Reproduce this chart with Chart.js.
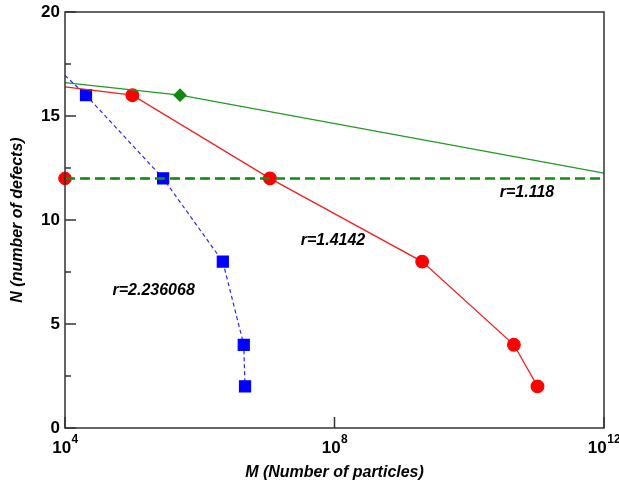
<!DOCTYPE html>
<html>
<head>
<meta charset="utf-8">
<script src="https://cdn.jsdelivr.net/npm/chart.js@4"></script>
<style>
  html, body { margin: 0; padding: 0; background: #fff; }
</style>
</head>
<body>
<canvas id="grafico" width="619" height="489"></canvas>
<script>
// dados
const redSolidM = [1e4, 1e5, 1.1e7, 2e9, 4.6e10, 1.03e11];
const redSolidN = [16.4, 16, 12, 8, 4, 2];
const redDashM = [1e4, 1.1e7];
const redDashN = [12, 12];
const greenSolidM = [1e4, 5.1e5, 1e12];
const greenSolidN = [16.6, 16, 12.25];
const greenDashM = [1e4, 1e12];
const greenDashN = [12, 12];
const blueM = [1e4, 2.05e4, 2.86e5, 2.2e6, 4.5e6, 4.7e6];
const blueN = [16.95, 16, 12, 8, 4, 2];

const xTicks = [1e4, 1e8, 1e12];
const xTickExp = ['4', '8', '12'];
const yTicks = [0, 2.5, 5, 7.5, 10, 12.5, 15, 17.5, 20];

const notes = ['r=1.118', 'r=1.4142', 'r=2.236068'];
const notesM = [7.2e10, 9.5e7, 2.07e5];
const notesN = [11.3, 9.0, 6.6];

const pts = (xs, ys) => xs.map((x, i) => ({ x: x, y: ys[i] }));
// primeiro ponto da linha sem marcador
const radii = (n, r) => Array.from({ length: n }, (_, i) => i === 0 ? 0 : r);

const FONT = '"Liberation Sans", Arial, sans-serif';
const ctx = document.getElementById('grafico').getContext('2d');

const extras = {
    id: 'extras',
    afterDatasetsDraw(chart) {
        const { ctx, chartArea: a, scales } = chart;
        ctx.save();
        // moldura
        ctx.strokeStyle = '#333';
        ctx.lineWidth = 1.5;
        ctx.strokeRect(a.left, a.top, a.right - a.left, a.bottom - a.top);
        // ticks para dentro
        ctx.beginPath();
        xTicks.forEach(v => {
            const px = scales.x.getPixelForValue(v);
            ctx.moveTo(px, a.bottom);
            ctx.lineTo(px, a.bottom - 11);
        });
        yTicks.forEach(v => {
            const py = scales.y.getPixelForValue(v);
            const len = v % 5 === 0 ? 11 : 6;
            ctx.moveTo(a.left, py);
            ctx.lineTo(a.left + len, py);
        });
        ctx.stroke();

        ctx.fillStyle = '#000';
        // rótulos do eixo x com expoente
        ctx.textBaseline = 'alphabetic';
        ctx.textAlign = 'left';
        xTicks.forEach((v, i) => {
            const px = scales.x.getPixelForValue(v);
            ctx.font = 'bold 17px ' + FONT;
            const w1 = ctx.measureText('10').width;
            ctx.font = 'bold 12px ' + FONT;
            const w2 = ctx.measureText(xTickExp[i]).width;
            const x0 = px - (w1 + w2) / 2;
            ctx.font = 'bold 17px ' + FONT;
            ctx.fillText('10', x0, a.bottom + 25);
            ctx.font = 'bold 12px ' + FONT;
            ctx.fillText(xTickExp[i], x0 + w1 + 0.5, a.bottom + 15);
        });

        // rótulos das curvas
        ctx.font = 'italic bold 16px ' + FONT;
        ctx.textAlign = 'center';
        ctx.textBaseline = 'middle';
        notes.forEach((t, i) => {
            ctx.fillText(t, scales.x.getPixelForValue(notesM[i]), scales.y.getPixelForValue(notesN[i]));
        });
        ctx.restore();
    }
};

const tickFont = { family: FONT, size: 17, weight: 'bold' };
const titleFont = { family: FONT, size: 16, weight: 'bold', style: 'italic' };

new Chart(ctx, {
    type: 'scatter',
    data: {
        datasets: [
            {
                data: pts(greenDashM, greenDashN),
                showLine: true,
                borderColor: '#138a13',
                borderWidth: 2.5,
                borderDash: [10, 5],
                pointRadius: 0
            },
            {
                data: pts(redDashM, redDashN),
                showLine: true,
                borderColor: 'rgba(255, 60, 60, 0.85)',
                borderWidth: 2,
                borderDash: [6, 9],
                borderDashOffset: -2,
                pointRadius: 0
            },
            {
                data: pts(greenSolidM, greenSolidN),
                showLine: true,
                borderColor: '#239a23',
                borderWidth: 1.3,
                pointStyle: 'rectRot',
                pointRadius: radii(3, 6).map((r, i) => i === 2 ? 0 : r),
                pointBackgroundColor: '#118811',
                pointBorderColor: '#118811'
            },
            {
                data: pts(redSolidM, redSolidN),
                showLine: true,
                borderColor: '#f02020',
                borderWidth: 1.3,
                pointStyle: 'circle',
                pointRadius: radii(6, 6.3),
                pointBackgroundColor: '#ff0000',
                pointBorderColor: '#ff0000'
            },
            {
                data: [{ x: redDashM[0], y: redDashN[0] }],
                borderColor: '#ff0000',
                pointStyle: 'circle',
                pointRadius: 6.3,
                pointBackgroundColor: '#ff0000',
                pointBorderColor: '#ff0000'
            },
            {
                data: pts(blueM, blueN),
                showLine: true,
                borderColor: '#2a2aee',
                borderWidth: 1.2,
                borderDash: [4, 3],
                pointStyle: 'rect',
                pointRadius: radii(6, 7.8),
                pointBackgroundColor: '#0000ff',
                pointBorderColor: '#0000ff'
            }
        ]
    },
    options: {
        responsive: false,
        animation: false,
        clip: false,
        layout: { padding: { top: 12, right: 15, left: 8, bottom: 0 } },
        plugins: {
            legend: { display: false },
            tooltip: { enabled: false }
        },
        scales: {
            x: {
                type: 'logarithmic',
                min: 1e4,
                max: 1e12,
                afterBuildTicks: s => { s.ticks = xTicks.map(v => ({ value: v })); },
                afterFit: s => { s.height = 61; s.paddingLeft = 0; s.paddingRight = 0; },
                grid: { display: false, drawTicks: false },
                border: { display: false },
                ticks: { display: false },
                title: {
                    display: true,
                    text: 'M (Number of particles)',
                    color: '#000',
                    font: titleFont,
                    padding: { top: 4, bottom: 7 }
                }
            },
            y: {
                min: 0,
                max: 20,
                afterBuildTicks: s => { s.ticks = yTicks.map(v => ({ value: v })); },
                afterFit: s => { s.width = 57; s.paddingTop = 0; s.paddingBottom = 0; },
                grid: { display: false, drawTicks: false },
                border: { display: false },
                ticks: {
                    color: '#000',
                    font: tickFont,
                    padding: 5,
                    autoSkip: false,
                    callback: v => v % 5 === 0 ? v : ''
                },
                title: {
                    display: true,
                    text: 'N (number of defects)',
                    color: '#000',
                    font: titleFont,
                    padding: { top: 0, bottom: 2 }
                }
            }
        }
    },
    plugins: [extras]
});
</script>
</body>
</html>
